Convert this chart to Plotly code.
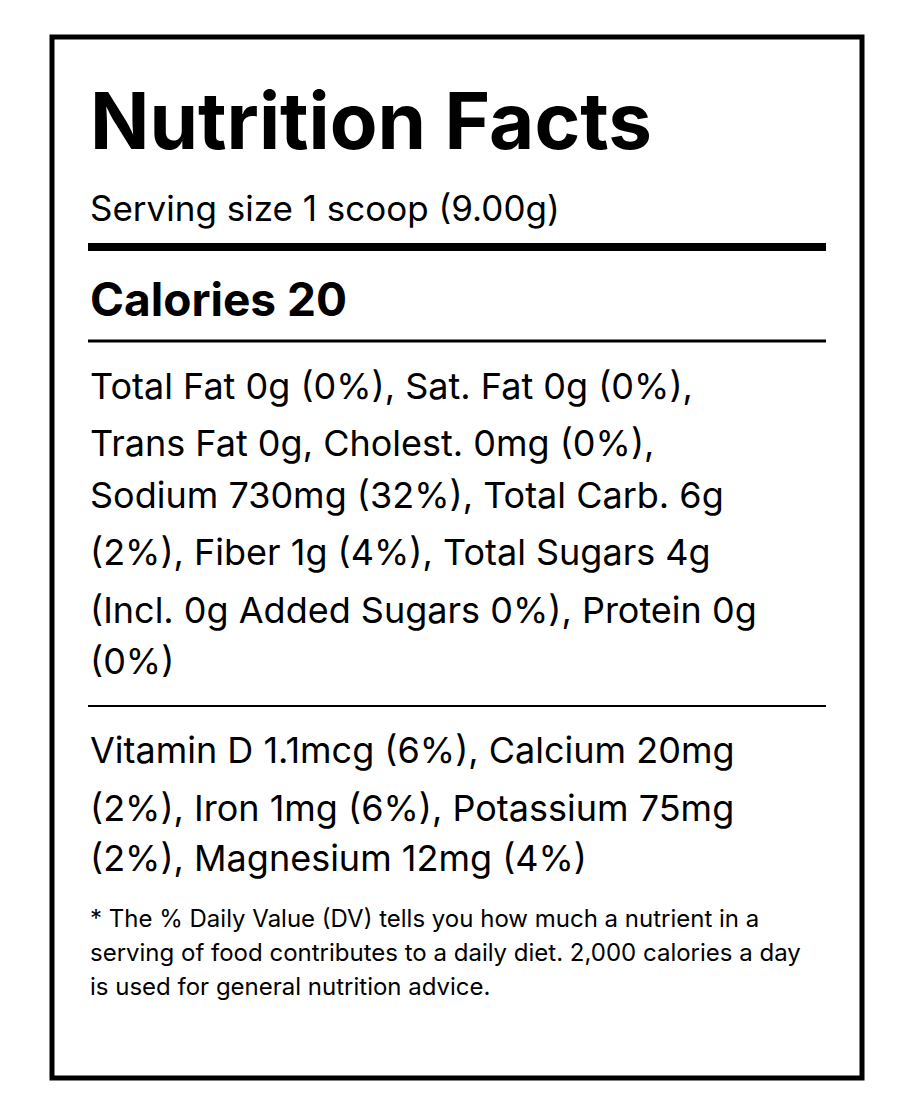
import plotly.graph_objects as go

title = "Nutrition Facts"
serving = "Serving size 1 scoop (9.00g)"
calories = "Calories 20"
nutrient_lines = [
    "Total Fat 0g (0%), Sat. Fat 0g (0%),",
    "Trans Fat 0g, Cholest. 0mg (0%),",
    "Sodium 730mg (32%), Total Carb. 6g",
    "(2%), Fiber 1g (4%), Total Sugars 4g",
    "(Incl. 0g Added Sugars 0%), Protein 0g",
    "(0%)",
]
vitamin_lines = [
    "Vitamin D 1.1mcg (6%), Calcium 20mg",
    "(2%), Iron 1mg (6%), Potassium 75mg",
    "(2%), Magnesium 12mg (4%)",
]
footnote_lines = [
    "* The % Daily Value (DV) tells you how much a nutrient in a",
    "serving of food contributes to a daily diet. 2,000 calories a day",
    "is used for general nutrition advice.",
]

FONT = "Inter, Roboto, sans-serif"
O = 8  # page offset compensation
fig = go.Figure()
fig.update_layout(width=900, height=1100, margin=dict(l=0, r=0, t=0, b=0),
                  paper_bgcolor="white", plot_bgcolor="white", showlegend=False)
fig.update_xaxes(range=[0, 900], visible=False, fixedrange=True)
fig.update_yaxes(range=[1100, 0], visible=False, fixedrange=True)

def txt(s, y, size, bold=False):
    fig.add_annotation(x=88 - O, y=y - O, text=f"<b>{s}</b>" if bold else s, showarrow=False,
                       xanchor="left", yanchor="middle",
                       font=dict(family=FONT, size=size, color="black"))

def hline(y, w):
    fig.add_shape(type="line", x0=88 - O, x1=826 - O, y0=y - O, y1=y - O,
                  line=dict(color="black", width=w))

fig.add_shape(type="rect", x0=52 - O, x1=862 - O, y0=37 - O, y1=1078 - O,
              line=dict(color="black", width=5))
txt(title, 120, 78, True)
txt(serving, 208, 35)
hline(247, 8)
txt(calories, 299, 46, True)
hline(341, 3)
for s, y in zip(nutrient_lines, [386, 443, 495, 552, 610, 661]):
    txt(s, y, 36)
hline(706, 2)
for s, y in zip(vitamin_lines, [750, 808, 858]):
    txt(s, y, 36)
for s, y in zip(footnote_lines, [918, 952, 986]):
    txt(s, y, 24)

fig.write_html("out.html")
